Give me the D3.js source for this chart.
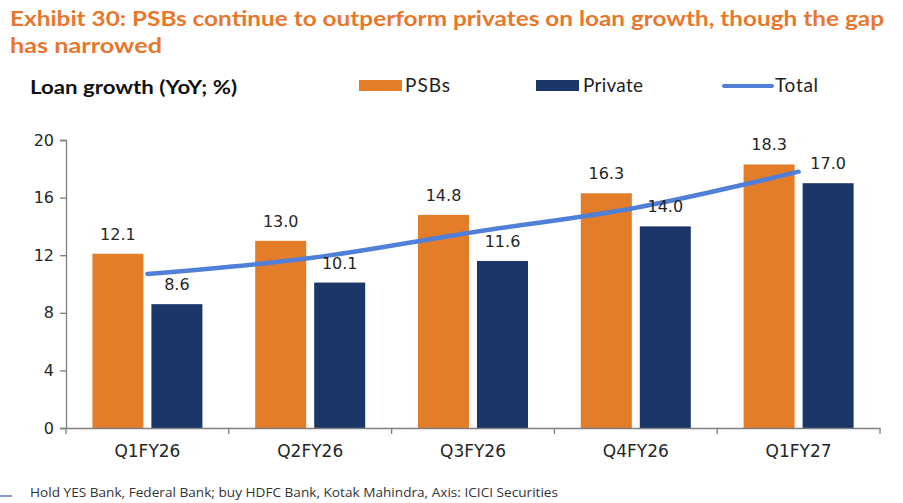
<!DOCTYPE html>
<html>
<head>
<meta charset="utf-8">
<script src="https://cdn.jsdelivr.net/npm/d3@7"></script>
<style>
  body { margin: 0; background: #fff; }
  svg { display: block; }
</style>
</head>
<body>
<svg id="chart"></svg>
<script>
// data
let categories = ["Q1FY26", "Q2FY26", "Q3FY26", "Q4FY26", "Q1FY27"];
let psb = [12.1, 13.0, 14.8, 16.3, 18.3];
let priv = [8.6, 10.1, 11.6, 14.0, 17.0];
let total = [10.7, 11.8, 13.6, 15.3, 17.8];
let yTicks = [0, 4, 8, 12, 16, 20];

let width = 903,
  height = 503;
let margin = { top: 140, right: 23, bottom: 75, left: 66 };
let orange = "#e47d2a",
  navy = "#1b3668",
  blue = "#4f7fd6";
let numFont = "'DejaVu Sans', Verdana, sans-serif";

let svg = d3.select("#chart").attr("width", width).attr("height", height);

// title
let title = svg.append("g").attr("fill", "#e8772e").attr("font-family", "Lato, sans-serif")
  .attr("font-weight", "bold").attr("font-size", "20px");
title.append("text").attr("x", 10).attr("y", 26).attr("textLength", 874)
  .attr("lengthAdjust", "spacingAndGlyphs")
  .text("Exhibit 30: PSBs continue to outperform privates on loan growth, though the gap");
title.append("text").attr("x", 10).attr("y", 53).attr("textLength", 152)
  .attr("lengthAdjust", "spacingAndGlyphs").text("has narrowed");

// y label
svg.append("text").attr("x", 30).attr("y", 94)
  .attr("font-family", "Lato, sans-serif").attr("font-weight", "bold")
  .attr("font-size", "19px").attr("fill", "#111")
  .attr("textLength", 207).attr("lengthAdjust", "spacingAndGlyphs")
  .text("Loan growth (YoY; %)");

// legend
let legend = svg.append("g").attr("font-family", "Lato, sans-serif")
  .attr("font-size", "19px").attr("fill", "#222").attr("lengthAdjust", "spacingAndGlyphs");
legend.append("rect").attr("x", 359).attr("y", 80).attr("width", 43).attr("height", 11).attr("fill", orange);
legend.append("text").attr("x", 405).attr("y", 92).attr("textLength", 45).text("PSBs");
legend.append("rect").attr("x", 536).attr("y", 80).attr("width", 43).attr("height", 11).attr("fill", navy);
legend.append("text").attr("x", 583).attr("y", 92).attr("textLength", 60).text("Private");
legend.append("line").attr("x1", 724).attr("x2", 772).attr("y1", 86).attr("y2", 86)
  .attr("stroke", blue).attr("stroke-width", 4).attr("stroke-linecap", "round");
legend.append("text").attr("x", 775).attr("y", 92).attr("textLength", 43).text("Total");

let x = d3.scaleBand().domain(categories)
  .range([margin.left, width - margin.right]).paddingInner(0).paddingOuter(0);
let y = d3.scaleLinear().domain([0, 20]).range([height - margin.bottom, margin.top]);

let barW = 51,
  gap = 8;
let offset = (x.bandwidth() - 2 * barW - gap) / 2;

// bars
svg.append("g").selectAll("rect").data(psb).join("rect")
  .attr("x", (d, i) => x(categories[i]) + offset)
  .attr("y", (d) => y(d))
  .attr("width", barW)
  .attr("height", (d) => y(0) - y(d))
  .attr("fill", orange);
svg.append("g").selectAll("rect").data(priv).join("rect")
  .attr("x", (d, i) => x(categories[i]) + offset + barW + gap)
  .attr("y", (d) => y(d))
  .attr("width", barW)
  .attr("height", (d) => y(0) - y(d))
  .attr("fill", navy);

// axes
let yAxis = svg.append("g").attr("transform", "translate(" + margin.left + ",0)")
  .call(d3.axisLeft(y).tickValues(yTicks).tickSize(6).tickPadding(6));
let xAxis = svg.append("g").attr("transform", "translate(0," + y(0) + ")")
  .call(d3.axisBottom(x).tickSize(0).tickPadding(17));
// category boundary ticks
xAxis.selectAll(".bound").data(d3.range(categories.length + 1)).join("line")
  .attr("class", "bound")
  .attr("x1", (i) => margin.left + i * x.bandwidth())
  .attr("x2", (i) => margin.left + i * x.bandwidth())
  .attr("y1", 0).attr("y2", 6);
[yAxis, xAxis].forEach((a) => {
  a.selectAll("path, line").attr("stroke", "#7f7f7f").attr("stroke-width", 1.3);
  a.selectAll("text").attr("font-family", numFont).attr("font-size", "16px").attr("fill", "#262626");
});
xAxis.selectAll("text").attr("font-size", "17px");

// total line
let line = d3.line()
  .x((d, i) => x(categories[i]) + x.bandwidth() / 2)
  .y((d) => y(d))
  .curve(d3.curveMonotoneX);
svg.append("path").datum(total).attr("d", line)
  .attr("fill", "none").attr("stroke", blue).attr("stroke-width", 4.5)
  .attr("stroke-linecap", "round");

// value labels
let labels = svg.append("g").attr("font-family", numFont).attr("font-size", "16px")
  .attr("fill", "#262626").attr("text-anchor", "middle");
labels.selectAll(".lp").data(psb).join("text").attr("class", "lp")
  .attr("x", (d, i) => x(categories[i]) + offset + barW / 2)
  .attr("y", (d) => y(d) - 14)
  .text((d) => d.toFixed(1));
labels.selectAll(".lv").data(priv).join("text").attr("class", "lv")
  .attr("x", (d, i) => x(categories[i]) + offset + barW * 1.5 + gap)
  .attr("y", (d) => y(d) - 14)
  .text((d) => d.toFixed(1));

// footer
svg.append("line").attr("x1", 0).attr("x2", 12).attr("y1", 496).attr("y2", 496)
  .attr("stroke", "#4f81bd").attr("stroke-width", 1.5);
svg.append("text").attr("x", 30).attr("y", 497)
  .attr("font-family", "'Open Sans', sans-serif").attr("font-size", "13px").attr("fill", "#333")
  .attr("textLength", 528).attr("lengthAdjust", "spacingAndGlyphs")
  .text("Hold YES Bank, Federal Bank; buy HDFC Bank, Kotak Mahindra, Axis: ICICI Securities");
</script>
</body>
</html>
